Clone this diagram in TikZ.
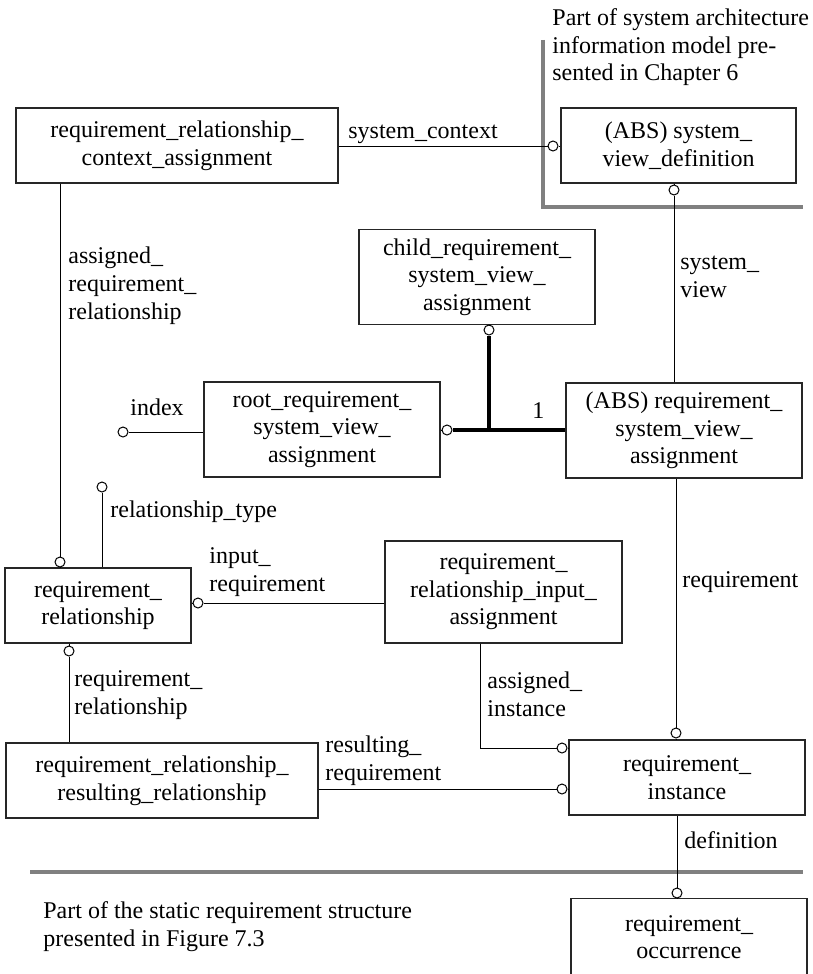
\documentclass[tikz,border=0pt]{standalone}
\usepackage{fontspec}
\setmainfont{Liberation Serif}
\begin{document}
\begin{tikzpicture}[x=0.5pt,y=-0.5pt,
  every node/.style={font=\fontsize{12}{13.8}\selectfont},
  box/.style={draw=black!85, line width=0.6pt, inner sep=0pt, align=center},
  circ/.style={circle, draw, fill=white, line width=0.5pt, inner sep=0pt, minimum size=5pt},
  conn/.style={draw, line width=0.5pt},
  heavy/.style={draw, line width=2.2pt},
  divider/.style={draw=black!50, line width=2pt},
  lbl/.style={inner sep=0pt, anchor=base west, align=left}]
\useasboundingbox (0,0) rectangle (813,974);
\clip (0,0) rectangle (813,974);

% section dividers
\coordinate (vtop) at (543,40);
\coordinate (hend) at (803,207);
\coordinate (bl) at (30,872);
\coordinate (br) at (803,872);
\draw[divider] (vtop) |- (hend);
\draw[divider] (bl) -- (br);

% entities
\node[box, minimum width=161pt, minimum height=37.5pt] (rrca) at (177,145.5)
  {requirement\_relationship\_\\context\_assignment};
\node[box, minimum width=117.5pt, minimum height=37.5pt] (svd) at (678.5,145.5)
  {(ABS) system\_\\view\_definition};
\node[box, minimum width=118pt, minimum height=47.5pt] (csva) at (477,277)
  {child\_requirement\_\\system\_view\_\\assignment};
\node[box, minimum width=118pt, minimum height=47.5pt] (root) at (322,429.5)
  {root\_requirement\_\\system\_view\_\\assignment};
\node[box, minimum width=118pt, minimum height=47.5pt] (rsva) at (684,430.5)
  {(ABS) requirement\_\\system\_view\_\\assignment};
\node[box, minimum width=93pt, minimum height=37.5pt] (rr) at (98,605.5)
  {requirement\_\\relationship};
\node[box, minimum width=118.5pt, minimum height=51pt] (rria) at (503.5,592)
  {requirement\_\\relationship\_input\_\\assignment};
\node[box, minimum width=156pt, minimum height=37.5pt] (rrr) at (162,780.5)
  {requirement\_relationship\_\\resulting\_relationship};
\node[box, minimum width=118pt, minimum height=37.5pt] (inst) at (687,777.5)
  {requirement\_\\instance};
\node[box, minimum width=118pt, minimum height=38.5pt] (occ) at (689,937)
  {requirement\_\\occurrence};

% attribute end circles
\node[circ] (c1) at (553,146) {};
\node[circ] (c2) at (674,190) {};
\node[circ] (c3) at (489,330) {};
\node[circ] (c4) at (447,430) {};
\node[circ] (c5) at (123,432) {};
\node[circ] (c6) at (102,487) {};
\node[circ] (c7) at (60,562) {};
\node[circ] (c8) at (198,603) {};
\node[circ] (c9) at (69,651) {};
\node[circ] (c10) at (562,748) {};
\node[circ] (c11) at (562,789) {};
\node[circ] (c12) at (676,733) {};
\node[circ] (c13) at (677,893) {};
\coordinate (elbow) at (480,748);

% relationships
\draw[conn] (rrca.east |- c1) -- (c1) -- (svd.west |- c1);
\draw[conn] (svd.south -| c2) -- (c2) -- (c2 |- rsva.north);
\draw[conn] (csva.south -| c3) -- (c3);
\draw[heavy] (c3) -- (c3 |- c4);
\draw[heavy] (c4) -- (rsva.west |- c4);
\draw[conn] (root.east |- c4) -- (c4);
\draw[conn] (c5) -- (root.west |- c5);
\draw[conn] (c6) -- (c6 |- rr.north);
\draw[conn] (rrca.south -| c7) -- (c7) -- (rr.north -| c7);
\draw[conn] (rr.east |- c8) -- (c8) -- (rria.west |- c8);
\draw[conn] (rr.south -| c9) -- (c9) -- (rrr.north -| c9);
\draw[conn] (rria.south -| elbow) -- (elbow) -- (c10) -- (inst.west |- c10);
\draw[conn] (rrr.east |- c11) -- (c11) -- (inst.west |- c11);
\draw[conn] (rsva.south -| c12) -- (c12) -- (inst.north -| c12);
\draw[conn] (inst.south -| c13) -- (c13) -- (occ.north -| c13);

% role names (base anchor sits on the last line)
\node[lbl] (l1) at (348,139) {system\_context};
\node[lbl] (l2) at (680,297) {system\_\\view};
\node[lbl] (l3) at (68,319) {assigned\_\\requirement\_\\relationship};
\node[lbl] (l4) at (130,415) {index};
\node[lbl] (l5) at (532,418) {1};
\node[lbl] (l6) at (110,517) {relationship\_type};
\node[lbl] (l7) at (209,591) {input\_\\requirement};
\node[lbl] (l8) at (682,587) {requirement};
\node[lbl] (l9) at (487,716) {assigned\_\\instance};
\node[lbl] (l10) at (74,714) {requirement\_\\relationship};
\node[lbl] (l11) at (325,780) {resulting\_\\requirement};
\node[lbl] (l12) at (684,848) {definition};

% section captions
\node[lbl] (cap1) at (552,81) {Part of system architecture\\information model pre-\\sented in Chapter 6};
\node[lbl] (cap2) at (43,946) {Part of the static requirement structure\\presented in Figure 7.3};
\end{tikzpicture}
\end{document}
